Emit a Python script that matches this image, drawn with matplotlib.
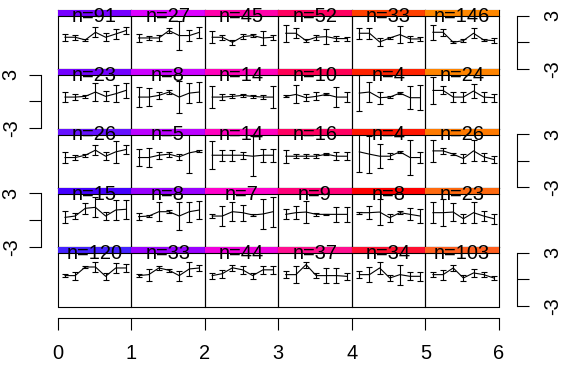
import matplotlib
matplotlib.use('Agg')
import matplotlib.pyplot as plt
from matplotlib.patches import Rectangle
import numpy as np

plt.rcParams['font.family'] = ['Liberation Sans', 'DejaVu Sans']

W, H = 563, 373

# sample sizes per panel (rows top->bottom, columns left->right)
counts_r1 = [91, 27, 45, 52, 33, 146]
counts_r2 = [23, 8, 14, 10, 4, 24]
counts_r3 = [26, 5, 14, 16, 4, 26]
counts_r4 = [15, 8, 7, 9, 8, 23]
counts_r5 = [120, 33, 44, 37, 34, 103]

# strip colours
colors_r1 = ['#7700FF', '#DD00FF', '#FF00AA', '#FF0060', '#FF4000', '#FF8800']
colors_r2 = ['#7300FF', '#CC00FF', '#FF00BB', '#FF0055', '#FF2200', '#FF8400']
colors_r3 = ['#6611FF', '#BB00FF', '#FF00BF', '#FF0062', '#FF1500', '#FF7A00']
colors_r4 = ['#4400FF', '#9900FF', '#FF00CC', '#FF0078', '#FF0000', '#FF6A10']
colors_r5 = ['#4422FF', '#9900FF', '#F000DD', '#FF1090', '#FF1030', '#FF5F20']

# means (7 points per panel) and error half-widths
means_r1 = [[0.55, 0.55, 0.25, 1.11, 0.55, 0.92, 1.30],
            [0.47, 0.47, 0.47, 1.30, 0.74, 0.74, 1.11],
            [0.55, 0.55, -0.02, 0.62, 0.74, 0.47, 0.55],
            [1.00, 1.00, 0.17, 0.55, 0.62, 0.40, 0.40],
            [1.00, 1.00, 0.02, 0.47, 0.85, 0.36, 0.36],
            [1.11, 1.11, -0.02, 0.17, 1.00, 0.25, 0.17]]
errs_r1 = [[0.38, 0.26, 0.15, 0.56, 0.45, 0.60, 0.41],
           [0.45, 0.23, 0.30, 0.30, 1.65, 0.60, 0.60],
           [0.68, 0.30, 0.26, 0.30, 0.19, 0.75, 0.30],
           [0.98, 0.56, 0.19, 0.26, 0.83, 0.30, 0.23],
           [0.64, 0.64, 0.45, 0.15, 0.94, 0.30, 0.26],
           [0.86, 0.38, 0.11, 0.19, 0.56, 0.15, 0.30]]

means_r2 = [[0.49, 0.49, 0.57, 1.06, 0.57, 0.87, 1.24],
            [0.49, 0.49, 0.68, 1.06, 0.49, 0.94, 1.06],
            [0.49, 0.49, 0.57, 0.68, 0.57, 0.49, 0.49],
            [0.57, 0.79, 0.42, 0.57, 0.79, 0.49, 0.49],
            [0.94, 1.06, 0.42, 0.49, 0.94, 0.42, 0.42],
            [1.24, 1.24, 0.49, 0.49, 1.17, 0.49, 0.42]]
errs_r2 = [[0.56, 0.38, 0.19, 1.02, 0.56, 0.94, 0.83],
           [1.09, 1.05, 0.38, 0.19, 1.84, 1.09, 1.09],
           [1.20, 0.30, 0.23, 0.15, 0.15, 0.19, 1.20],
           [0.11, 1.02, 0.38, 0.45, 0.11, 1.09, 0.56],
           [2.07, 1.13, 0.68, 0.15, 0.11, 1.32, 1.39],
           [1.50, 0.45, 0.60, 0.56, 0.83, 0.60, 0.45]]

means_r3 = [[0.36, 0.36, 0.62, 1.19, 0.51, 1.00, 1.26],
            [0.36, 0.36, 0.62, 0.74, 0.44, 0.89, 1.11],
            [0.62, 0.62, 0.62, 0.62, 0.51, 0.62, 0.62],
            [0.51, 0.51, 0.51, 0.51, 0.74, 0.51, 0.51],
            [1.00, 0.74, 0.51, 0.51, 1.00, 0.36, 0.36],
            [1.11, 1.11, 0.74, 0.25, 1.11, 0.44, 0.14]]
errs_r3 = [[0.64, 0.30, 0.15, 0.56, 0.45, 1.20, 0.53],
           [0.98, 1.02, 0.38, 0.30, 0.34, 2.26, 0.08],
           [1.58, 0.64, 0.64, 0.38, 2.26, 0.75, 0.75],
           [0.71, 0.23, 0.23, 0.23, 0.11, 0.45, 0.45],
           [2.26, 2.07, 1.32, 0.34, 0.11, 1.95, 0.64],
           [1.20, 0.30, 0.15, 0.53, 1.17, 0.45, 0.38]]

means_r4 = [[0.30, 0.45, 1.32, 1.43, 0.45, 1.13, 1.21],
            [0.38, 0.45, 0.94, 0.94, 0.45, 0.94, 1.13],
            [0.45, 0.45, 0.94, 0.83, 0.57, 0.68, 0.94],
            [0.64, 0.83, 0.90, 0.64, 0.64, 0.64, 0.64],
            [0.83, 0.83, 0.90, 0.26, 0.83, 0.64, 0.45],
            [0.83, 0.83, 0.90, 0.15, 0.83, 0.45, 0.15]]
errs_r4 = [[0.68, 0.30, 0.60, 1.13, 0.45, 1.13, 1.05],
           [0.38, 0.15, 1.05, 0.15, 1.58, 1.13, 1.05],
           [0.23, 1.13, 1.05, 0.90, 0.11, 1.69, 1.69],
           [0.56, 0.75, 1.24, 0.19, 0.08, 0.83, 0.83],
           [0.11, 0.75, 1.50, 0.45, 0.15, 0.68, 0.75],
           [1.20, 1.50, 1.05, 0.53, 1.20, 0.56, 0.56]]

means_r5 = [[0.42, 0.42, 1.39, 1.39, 0.34, 1.28, 1.28],
            [0.42, 0.53, 1.28, 1.02, 0.42, 1.17, 1.28],
            [0.42, 0.64, 1.30, 1.07, 0.42, 1.07, 1.07],
            [0.53, 0.53, 1.66, 0.42, 0.42, 0.42, 0.34],
            [0.53, 0.53, 1.28, 0.15, 0.53, 0.34, 0.34],
            [0.53, 0.53, 1.28, 0.15, 0.72, 0.53, 0.15]]
errs_r5 = [[0.19, 0.45, 0.15, 0.53, 0.41, 0.60, 0.41],
           [0.19, 0.68, 0.19, 0.19, 0.56, 0.83, 0.38],
           [0.34, 0.45, 0.34, 0.45, 0.34, 0.45, 0.45],
           [0.38, 0.94, 0.34, 0.30, 0.83, 0.83, 0.38],
           [0.38, 0.86, 0.71, 0.34, 1.13, 0.45, 0.49],
           [0.26, 0.56, 0.38, 0.38, 0.41, 0.26, 0.23]]

x_ticks = [0, 1, 2, 3, 4, 5, 6]
y_ticks = [-3, 0, 3]
y_ticklabels = ['-3', '', '3']

counts = [counts_r1, counts_r2, counts_r3, counts_r4, counts_r5]
colors = [colors_r1, colors_r2, colors_r3, colors_r4, colors_r5]
means = [means_r1, means_r2, means_r3, means_r4, means_r5]
errs = [errs_r1, errs_r2, errs_r3, errs_r4, errs_r5]

YLIM = (-3.06, 3.62)
LEFT = 57.5
COLW = 73.58
TOP = 10.0
ROWH = 59.3
STRIP = 6.0
FS = 14.4
LW = 0.8


def rect(lp, tp, wp, hp):
    return [lp / W, 1 - (tp + hp) / H, wp / W, hp / H]


fig = plt.figure(figsize=(W / 100, H / 100), dpi=100)

xs = np.arange(1, 8)
for r in range(5):
    for c in range(6):
        ax = fig.add_axes(rect(LEFT + c * COLW, TOP + r * ROWH, COLW, ROWH))
        ax.patch.set_visible(False)
        ax.set_xlim(0.26, 7.51)
        ax.set_ylim(*YLIM)
        ax.set_xticks([])
        ax.set_yticks([])
        for s in ax.spines.values():
            s.set_linewidth(LW)
        ax.errorbar(xs, means[r][c], yerr=errs[r][c], color='black', lw=LW,
                    elinewidth=LW, capsize=2.0, capthick=LW)
        sh = STRIP / ROWH
        ax.add_patch(Rectangle((0, 1 - sh), 1, sh, transform=ax.transAxes,
                               facecolor=colors[r][c], edgecolor='none',
                               zorder=3, clip_on=False))
        ax.plot([0, 1], [1 - sh, 1 - sh], transform=ax.transAxes,
                color='black', lw=LW, zorder=3.5, clip_on=False)
        ax.text(0.5, 1 - 11.8 / ROWH, f'n={counts[r][c]}', transform=ax.transAxes,
                ha='center', va='baseline', fontsize=FS, zorder=5, clip_on=False)

# bottom x axis
axb = fig.add_axes(rect(LEFT, 300, 6 * COLW, 18))
axb.patch.set_visible(False)
axb.set_xlim(0, 6)
for k in ['top', 'left', 'right']:
    axb.spines[k].set_visible(False)
axb.spines['bottom'].set_linewidth(LW)
axb.set_yticks([])
axb.set_xticks(x_ticks)
axb.set_xticklabels([str(t) for t in x_ticks])
axb.tick_params(axis='x', length=8.6, width=LW, labelsize=FS, pad=10)

# side y axes
for r in range(5):
    top = TOP + r * ROWH
    if r % 2 == 1:
        axs = fig.add_axes(rect(41, top, 5, ROWH))
        side = 'left'
    else:
        axs = fig.add_axes(rect(512, top, 5, ROWH))
        side = 'right'
    axs.patch.set_visible(False)
    axs.set_ylim(*YLIM)
    axs.set_xticks([])
    for k in ['top', 'bottom', 'left', 'right']:
        axs.spines[k].set_visible(k == side)
    axs.spines[side].set_bounds(-3, 3)
    axs.spines[side].set_linewidth(LW)
    if side == 'right':
        axs.yaxis.tick_right()
    axs.set_yticks(y_ticks)
    axs.set_yticklabels(y_ticklabels, rotation=90, va='center')
    axs.tick_params(axis='y', length=8.6, width=LW, labelsize=FS,
                    pad=6 if side == 'left' else 10)

fig.savefig('out.png', dpi=100)
